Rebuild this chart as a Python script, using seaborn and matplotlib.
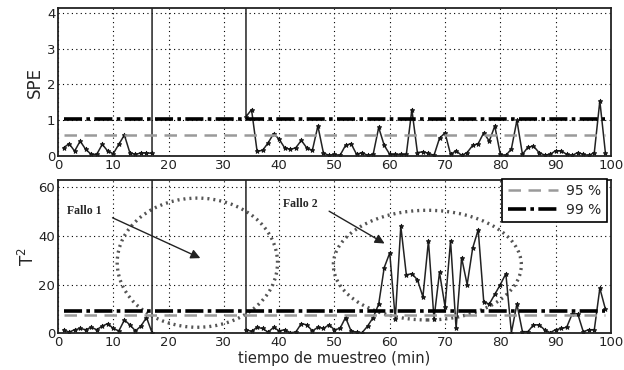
import numpy as np
import pandas as pd
import seaborn as sns
import matplotlib.pyplot as plt
from matplotlib.patches import Ellipse

# muestras 1..99 (min)
muestras = list(range(1, 100))

# SPE, valores (18-33 quedan fuera de escala: fallo 1)
spe = [0.23, 0.35, 0.14, 0.42, 0.19, 0.05, 0.05, 0.33, 0.14, 0.07,
       0.33, 0.59, 0.09, 0.05, 0.09, 0.09, 0.08,
       500, 500, 500, 500, 500, 500, 500, 500, 500, 500, 500, 500, 500, 500, 500, 500,
       1.1, 1.3, 0.14, 0.16, 0.37, 0.63, 0.47, 0.23, 0.19, 0.23,
       0.44, 0.23, 0.16, 0.84, 0.09, 0.02, 0.05, 0.02, 0.3, 0.35,
       0.05, 0.1, 0.02, 0.05, 0.8, 0.3, 0.05, 0.05, 0.05, 0.05,
       1.3, 0.1, 0.12, 0.08, 0.02, 0.5, 0.65, 0.05, 0.15, 0.02,
       0.1, 0.3, 0.35, 0.65, 0.42, 0.84, 0.05, 0.02, 0.2, 1.0,
       0.05, 0.25, 0.28, 0.1, 0.03, 0.05, 0.15, 0.15, 0.05, 0.02,
       0.1, 0.05, 0.02, 0.1, 1.54, 0.1]

# T^2
t2 = [1.5, 0.5, 1.5, 2.0, 1.5, 2.5, 1.5, 3.0, 4.0, 2.0,
      1.0, 5.5, 3.5, 1.0, 3.0, 6.5, 0.3,
      5000, 5000, 5000, 5000, 5000, 5000, 5000, 5000, 5000, 5000, 5000, 5000, 5000, 5000, 5000, 5000,
      1.5, 0.8, 2.5, 2.0, 0.5, 2.5, 1.0, 1.5, 0.3, 0.5,
      4.0, 3.5, 1.0, 2.5, 2.0, 3.5, 1.5, 2.0, 6.5, 1.0,
      0.5, 0.3, 3.0, 6.5, 12.0, 27.0, 33.0, 6.0, 44.0, 24.0,
      24.5, 22.0, 15.0, 38.0, 6.0, 25.0, 11.0, 38.0, 2.0, 31.0,
      20.0, 35.0, 42.5, 13.0, 12.0, 16.0, 20.0, 24.5, 0.3, 12.0,
      0.7, 0.7, 3.5, 3.5, 1.5, 0.3, 1.5, 2.0, 2.5, 8.0,
      8.0, 0.7, 1.5, 1.5, 18.5, 10.0]

# limites de control
spe_lim95 = 0.58
spe_lim99 = 1.05
t2_lim95 = 7.6
t2_lim99 = 9.0

df = pd.DataFrame({'muestra': muestras, 'SPE': spe, 'T2': t2})

sns.set_style("white")
plt.rcParams['font.family'] = ['DejaVu Sans']

fig = plt.figure(figsize=(6.24, 3.70), dpi=100)
ax1 = fig.add_axes([0.093, 0.578, 0.886, 0.40])
ax2 = fig.add_axes([0.093, 0.099, 0.886, 0.415])

dash_dot = (0, (5, 1.2, 1, 1.2))


def panel(ax, col, lim95, lim99, ymax, yticks):
    sns.lineplot(x='muestra', y=col, data=df, ax=ax, color='#222222', linewidth=1.1,
                 marker='*', markersize=3.5, markeredgewidth=0.6,
                 markeredgecolor='#111111')
    sns.lineplot(x=muestras, y=[lim95] * len(muestras), ax=ax, color='#9a9a9a',
                 linewidth=1.8, label='95 %')
    ax.lines[-1].set_linestyle((0, (5, 3)))
    sns.lineplot(x=muestras, y=[lim99] * len(muestras), ax=ax, color='black',
                 linewidth=2.6, label='99 %')
    ax.lines[-1].set_linestyle(dash_dot)
    ax.set_xlim(0, 100)
    ax.set_ylim(0, ymax)
    ax.set_xticks(range(0, 101, 10))
    ax.set_yticks(yticks)
    ax.grid(True, color='black', linestyle=(0, (1, 3)), linewidth=0.8)
    ax.tick_params(direction='in', length=4, labelsize=9.5, colors='#222222', pad=2)
    for sp in ax.spines.values():
        sp.set_color('#222222')
        sp.set_linewidth(1.3)
    if ax.get_legend() is not None:
        ax.get_legend().remove()


panel(ax1, 'SPE', spe_lim95, spe_lim99, 4.13, [0, 1, 2, 3, 4])
panel(ax2, 'T2', t2_lim95, t2_lim99, 63, [0, 20, 40, 60])

ax1.set_xlabel('')
ax1.set_ylabel('SPE', fontsize=12, labelpad=2)
ax2.set_ylabel(r'T$^2$', fontsize=12, labelpad=0)
ax2.set_xlabel('tiempo de muestreo (min)', fontsize=10.5, labelpad=1)

# zonas de fallo
ax2.add_patch(Ellipse((25.2, 29), 29, 53, fill=False, edgecolor='#555555',
                      linestyle=(0, (0.6, 1.2)), linewidth=2.4))
ax2.add_patch(Ellipse((66.8, 28), 34, 45, fill=False, edgecolor='#555555',
                      linestyle=(0, (0.6, 1.2)), linewidth=2.4))

ax2.text(1.6, 50.3, 'Fallo 1', family=['Liberation Serif'], fontweight='bold',
         fontsize=8.5, va='center')
ax2.text(40.7, 53, 'Fallo 2', family=['Liberation Serif'], fontweight='bold',
         fontsize=8.5, va='center')
ax2.annotate('', xy=(26.2, 30.4), xytext=(9.4, 47.9),
             arrowprops=dict(arrowstyle='-|>', color='#222222', lw=1, mutation_scale=14))
ax2.annotate('', xy=(59.5, 36.3), xytext=(48.6, 50.7),
             arrowprops=dict(arrowstyle='-|>', color='#222222', lw=1, mutation_scale=14))

handles = ax2.lines[-2:]
leg = ax2.legend(handles, ['95 %', '99 %'], loc='upper right',
                 bbox_to_anchor=(1.005, 1.052), fontsize=10, handlelength=3.6,
                 frameon=True, fancybox=False, framealpha=1, borderpad=0.4,
                 labelspacing=0.3, handletextpad=0.6)
leg.get_frame().set_edgecolor('black')
leg.get_frame().set_linewidth(1.2)
leg.set_zorder(10)

fig.savefig('out.png', dpi=100)
